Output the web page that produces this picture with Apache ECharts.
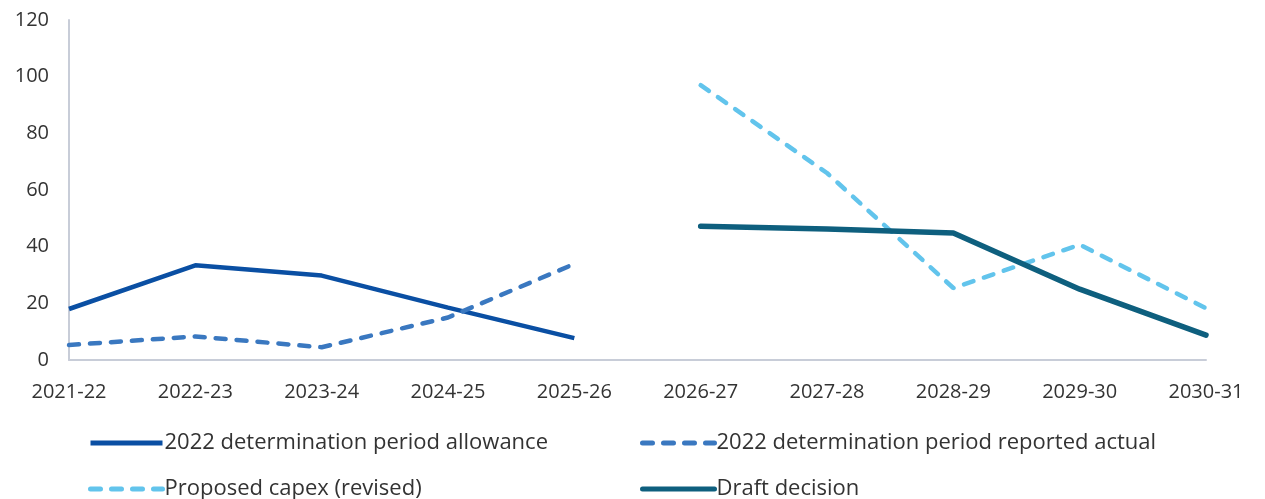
<!DOCTYPE html>
<html>
<head>
<meta charset="utf-8">
<script src="https://cdn.jsdelivr.net/npm/echarts@6/dist/echarts.min.js"></script>
<style>
  html, body { margin: 0; padding: 0; background: #fff; }
  #main { width: 1265px; height: 499px; }
</style>
</head>
<body>
<div id="main"></div>
<script>
var years = ['2021-22', '2022-23', '2023-24', '2024-25', '2025-26',
             '2026-27', '2027-28', '2028-29', '2029-30', '2030-31'];
var allowance = [18, 33.4, 29.8, 18.5, 7.7, null, null, null, null, null];
var reportedActual = [5.3, 8.3, 4.5, 15, 33.9, null, null, null, null, null];
var proposedCapex = [null, null, null, null, null, 97, 66, 25.4, 40.7, 18.3];
var draftDecision = [null, null, null, null, null, 47.2, 46.2, 44.8, 25, 8.8];

var chartDom = document.getElementById('main');
var myChart = echarts.init(chartDom);
var option;

var font = 'Open Sans';

// one legend per item so the 2x2 grid lines up like the original
function legendItem(left, top, name) {
    return {
        orient: 'horizontal',
        left: left,
        top: top,
        padding: 0,
        itemWidth: 72,
        itemHeight: 16,
        itemStyle: { opacity: 0 },
        lineStyle: { width: 5 },
        textStyle: { color: '#333', fontSize: 22, fontFamily: font, padding: [0, 0, 0, -3] },
        data: [name]
    };
}

option = {
    animation: false,
    textStyle: { fontFamily: font },
    grid: { left: 69, right: 59, top: 20, bottom: 139 },
    xAxis: {
        type: 'category',
        data: years,
        boundaryGap: false,
        axisLine: { lineStyle: { color: '#c8cdd8', width: 2 } },
        axisTick: { show: false },
        axisLabel: { color: '#333', fontSize: 20, margin: 22, fontFamily: font }
    },
    yAxis: {
        type: 'value',
        min: 0,
        max: 120,
        interval: 20,
        axisLine: { show: true, lineStyle: { color: '#c8cdd8', width: 2 } },
        axisTick: { show: false },
        splitLine: { show: false },
        axisLabel: { color: '#333', fontSize: 20, margin: 20, fontFamily: font }
    },
    legend: [
        legendItem(88, 432, '2022 determination period allowance'),
        legendItem(640, 432, '2022 determination period reported actual'),
        legendItem(88, 478, 'Proposed capex (revised)'),
        legendItem(640, 478, 'Draft decision')
    ],
    series: [
        {
            name: '2022 determination period allowance',
            type: 'line',
            data: allowance,
            symbol: 'none',
            lineStyle: { color: '#0a4fa3', width: 4.5 },
            itemStyle: { color: '#0a4fa3' }
        },
        {
            name: '2022 determination period reported actual',
            type: 'line',
            data: reportedActual,
            symbol: 'none',
            lineStyle: { color: '#3a78c0', width: 4.5, type: [10, 11], cap: 'round' },
            itemStyle: { color: '#3a78c0' }
        },
        {
            name: 'Proposed capex (revised)',
            type: 'line',
            data: proposedCapex,
            symbol: 'none',
            lineStyle: { color: '#62c4ec', width: 4.5, type: [10, 11], cap: 'round' },
            itemStyle: { color: '#62c4ec' }
        },
        {
            name: 'Draft decision',
            type: 'line',
            data: draftDecision,
            symbol: 'none',
            lineStyle: { color: '#0e5f7e', width: 5.5, cap: 'round' },
            itemStyle: { color: '#0e5f7e' }
        }
    ]
};

option && myChart.setOption(option);
</script>
</body>
</html>
